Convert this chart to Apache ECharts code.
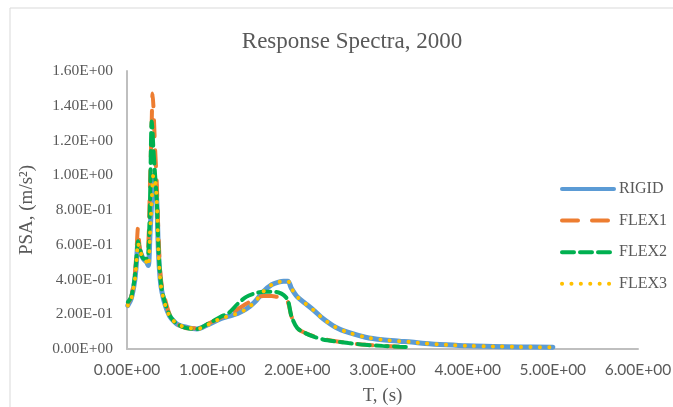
<!DOCTYPE html>
<html>
<head>
<meta charset="utf-8">
<script src="https://cdn.jsdelivr.net/npm/echarts@6/dist/echarts.min.js"></script>
<style>html,body{margin:0;padding:0;background:#fff}#c{width:673px;height:407px}</style>
</head>
<body>
<div id="c"></div>
<script>
var T      = [0.01,0.05,0.09,0.11,0.13,0.15,0.19,0.23,0.25,0.27,0.29,0.30,0.31,0.33,0.35,0.37,0.39,0.41,0.45,0.50,0.55,0.60,0.70,0.82,0.95,1.10,1.20,1.30,1.40,1.50,1.60,1.70,1.78,1.84,1.89,1.93,2.00,2.10,2.20,2.30,2.45,2.60,2.80,3.00,3.20,3.34,3.50,3.75,4.00,4.30,4.60,5.00];
var rigid  = [0.25,0.29,0.39,0.49,0.61,0.57,0.52,0.50,0.48,0.66,0.85,0.95,1.00,0.97,0.85,0.55,0.40,0.33,0.25,0.19,0.16,0.14,0.125,0.115,0.14,0.175,0.19,0.205,0.23,0.27,0.33,0.37,0.385,0.39,0.39,0.35,0.30,0.26,0.22,0.175,0.125,0.095,0.068,0.053,0.045,0.040,0.032,0.024,0.018,0.015,0.012,0.010];
var flex1  = [0.26,0.30,0.42,0.55,0.70,0.58,0.53,0.55,0.60,0.95,1.30,1.47,1.40,1.15,0.95,0.65,0.45,0.36,0.28,0.20,0.16,0.14,0.12,0.12,0.145,0.18,0.20,0.23,0.26,0.29,0.305,0.305,0.30,0.30,0.27,0.19,0.12,0.09,0.072,0.058,0.045,0.035,0.024,0.018,0.013,0.010,null,null,null,null,null,null];
var flex2  = [0.27,0.30,0.41,0.52,0.62,0.58,0.52,0.52,0.55,0.85,1.31,1.25,1.15,1.00,0.85,0.58,0.42,0.34,0.26,0.195,0.16,0.14,0.12,0.115,0.145,0.185,0.21,0.26,0.30,0.32,0.33,0.33,0.325,0.31,0.28,0.19,0.12,0.09,0.07,0.055,0.043,0.034,0.024,0.018,0.013,0.010,null,null,null,null,null,null];
var flex3  = [0.25,0.29,0.39,0.49,0.61,0.57,0.52,0.50,0.48,0.66,0.85,0.95,1.00,0.97,0.85,0.55,0.40,0.33,0.25,0.19,0.16,0.14,0.125,0.115,0.14,0.175,0.19,0.205,0.23,0.27,0.33,0.37,0.385,0.39,0.39,0.35,0.30,0.26,0.22,0.175,0.125,0.095,0.068,0.053,0.045,0.040,0.032,0.024,0.018,0.015,0.012,0.010];
var seriesNames = ['RIGID','FLEX1','FLEX2','FLEX3'];
var xTickLabels = ['0.00E+00','1.00E+00','2.00E+00','3.00E+00','4.00E+00','5.00E+00','6.00E+00'];
var yTickLabels = ['0.00E+00','2.00E-01','4.00E-01','6.00E-01','8.00E-01','1.00E+00','1.20E+00','1.40E+00','1.60E+00'];

function pairs(vals){ var out=[]; for(var i=0;i<T.length;i++){ if(vals[i]!==null) out.push([T[i],vals[i]]); } return out; }

var chart = echarts.init(document.getElementById('c'));
var serifF = '"Liberation Serif","Times New Roman",serif';
var txt = '#595959';
chart.setOption({
  animation:false,
  backgroundColor:'#fff',
  graphic:[{type:'rect',shape:{x:10,y:8,width:700,height:420},style:{fill:'none',stroke:'#d9d9d9',lineWidth:1},z:-1}],
  title:{text:'Response Spectra, 2000',left:347,textAlign:'center',top:25,textStyle:{fontFamily:serifF,fontSize:23,fontWeight:'normal',color:txt}},
  legend:{orient:'vertical',left:555,top:176,itemWidth:52,itemHeight:14,itemGap:15.6,
    itemStyle:{opacity:0},
    lineStyle:{width:4,cap:'round'},
    textStyle:{fontFamily:serifF,fontSize:16,color:txt},data:seriesNames},
  grid:{left:127,right:35,top:71,bottom:58,containLabel:false,outerBoundsMode:'none'},
  xAxis:{type:'value',min:0,max:6,interval:1,
    name:'T, (s)',nameLocation:'middle',nameGap:38,nameTextStyle:{fontFamily:serifF,fontSize:19,color:txt},
    axisLine:{show:true,lineStyle:{color:'#bfbfbf',width:2}},axisTick:{show:false},splitLine:{show:false},
    axisLabel:{margin:13,fontFamily:'Lato',fontSize:15.5,color:txt,formatter:function(v){return xTickLabels[Math.round(v)];}}},
  yAxis:{type:'value',min:0,max:1.6,interval:0.2,
    name:'PSA, (m/s²)',nameLocation:'middle',nameGap:90,nameTextStyle:{fontFamily:serifF,fontSize:19,color:txt},
    axisLine:{show:true,lineStyle:{color:'#bfbfbf',width:2}},axisTick:{show:false},splitLine:{show:false},
    axisLabel:{margin:14,fontFamily:serifF,fontSize:15.5,color:txt,formatter:function(v){return yTickLabels[Math.round(v/0.2)];}}},
  series:[
    {name:'RIGID',type:'line',symbol:'none',smooth:0.3,data:pairs(rigid),itemStyle:{color:'#5B9BD5'},lineStyle:{color:'#5B9BD5',width:5,cap:'round'}},
    {name:'FLEX1',type:'line',symbol:'none',smooth:0.3,data:pairs(flex1),itemStyle:{color:'#ED7D31'},lineStyle:{color:'#ED7D31',width:4,type:[16,14],cap:'round'}},
    {name:'FLEX2',type:'line',symbol:'none',smooth:0.3,data:pairs(flex2),itemStyle:{color:'#00B050'},lineStyle:{color:'#00B050',width:4,type:[12,6],cap:'round'}},
    {name:'FLEX3',type:'line',symbol:'none',smooth:0.3,data:pairs(flex3),itemStyle:{color:'#FFC000'},lineStyle:{color:'#FFC000',width:4,type:[0.1,9.3],cap:'round'}}
  ]
});
</script>
</body>
</html>
